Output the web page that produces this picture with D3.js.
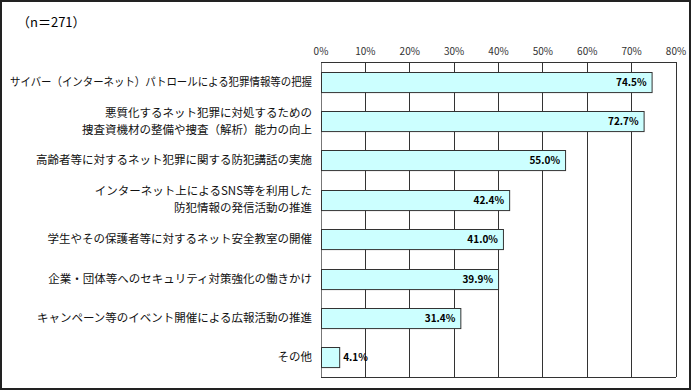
<!DOCTYPE html>
<html>
<head>
<meta charset="utf-8">
<script src="https://cdn.jsdelivr.net/npm/d3@7"></script>
<style>
  body { margin: 0; background: #fff; }
  svg text { font-family: "Noto Sans CJK JP", sans-serif; }
</style>
</head>
<body>
<div class="graph-container"></div>
<script>
// chart data
var categories = [
  ['サイバー（インターネット）パトロールによる犯罪情報等の把握'],
  ['悪質化するネット犯罪に対処するための', '捜査資機材の整備や捜査（解析）能力の向上'],
  ['高齢者等に対するネット犯罪に関する防犯講話の実施'],
  ['インターネット上によるSNS等を利用した', '防犯情報の発信活動の推進'],
  ['学生やその保護者等に対するネット安全教室の開催'],
  ['企業・団体等へのセキュリティ対策強化の働きかけ'],
  ['キャンペーン等のイベント開催による広報活動の推進'],
  ['その他']
];
var values = [74.5, 72.7, 55.0, 42.4, 41.0, 39.9, 31.4, 4.1];
var tickValues = [0, 10, 20, 30, 40, 50, 60, 70, 80];
var sampleLabel = '（n＝271）';

var svgWidth = 691;
var svgHeight = 390;
var plotLeft = 321, plotRight = 676, plotTop = 62, plotBottom = 377;
var labelRight = 312;
var maxLabelWidth = 302;

var svg = d3.select('.graph-container').append('svg')
  .attr('width', svgWidth)
  .attr('height', svgHeight);

// outer frame
svg.append('rect')
  .attr('x', 1).attr('y', 1)
  .attr('width', svgWidth - 2).attr('height', svgHeight - 2)
  .attr('fill', '#fff')
  .attr('stroke', '#222')
  .attr('stroke-width', 2);

svg.append('text')
  .attr('x', 17).attr('y', 27)
  .style('font-size', '13px')
  .text(sampleLabel);

var xScale = d3.scaleLinear()
  .domain([0, 80])
  .range([plotLeft, plotRight]);

var yScale = d3.scaleBand()
  .domain(d3.range(values.length))
  .range([plotTop, plotBottom])
  .paddingInner(0.49)
  .paddingOuter(0.245);

// gridlines
svg.append('g').selectAll('line')
  .data(tickValues)
  .enter()
  .append('line')
  .attr('x1', function(d) { return xScale(d); })
  .attr('x2', function(d) { return xScale(d); })
  .attr('y1', plotTop)
  .attr('y2', plotBottom)
  .attr('stroke', function(d) { return d === 0 ? '#777' : '#333'; })
  .attr('stroke-width', 1)
  .attr('shape-rendering', 'crispEdges');

// top and bottom edges of plot
svg.append('line')
  .attr('x1', plotLeft).attr('x2', plotRight)
  .attr('y1', plotTop + 0.5).attr('y2', plotTop + 0.5)
  .attr('stroke', '#333');
svg.append('line')
  .attr('x1', plotLeft).attr('x2', plotRight)
  .attr('y1', plotBottom + 0.5).attr('y2', plotBottom + 0.5)
  .attr('stroke', '#333');

// top axis tick labels
svg.append('g').selectAll('text')
  .data(tickValues)
  .enter()
  .append('text')
  .attr('x', function(d) { return xScale(d); })
  .attr('y', 55)
  .attr('text-anchor', 'middle')
  .style('font-size', '10px')
  .attr('fill', '#333')
  .text(function(d) { return d + '%'; });

// bars
svg.append('g').selectAll('rect')
  .data(values)
  .enter()
  .append('rect')
  .attr('x', xScale(0) + 0.5)
  .attr('y', function(d, i) { return Math.round(yScale(i)) + 0.5; })
  .attr('width', function(d) { return xScale(d) - xScale(0); })
  .attr('height', yScale.bandwidth())
  .attr('fill', '#ccffff')
  .attr('stroke', '#333')
  .attr('stroke-width', 1);

// value labels
svg.append('g').selectAll('text')
  .data(values)
  .enter()
  .append('text')
  .attr('x', function(d) { return d < 10 ? xScale(d) + 4 : xScale(d) - 5; })
  .attr('y', function(d, i) { return yScale(i) + yScale.bandwidth() / 2 + 4; })
  .attr('text-anchor', function(d) { return d < 10 ? 'start' : 'end'; })
  .style('font-size', '10px')
  .style('font-weight', 'bold')
  .text(function(d) { return d.toFixed(1) + '%'; });

// category labels (squeeze lines that would run past the left edge)
var catGroup = svg.append('g');
categories.forEach(function(lines, i) {
  var cy = yScale(i) + yScale.bandwidth() / 2;
  lines.forEach(function(line, j) {
    var offset = (j - (lines.length - 1) / 2) * 17;
    var t = catGroup.append('text')
      .attr('x', labelRight)
      .attr('y', cy + offset + 4)
      .attr('text-anchor', 'end')
      .style('font-size', '11.5px')
      .attr('fill', '#111')
      .text(line);
    if (t.node().getComputedTextLength() > maxLabelWidth) {
      t.attr('textLength', maxLabelWidth)
        .attr('lengthAdjust', 'spacingAndGlyphs');
    }
  });
});
</script>
</body>
</html>
